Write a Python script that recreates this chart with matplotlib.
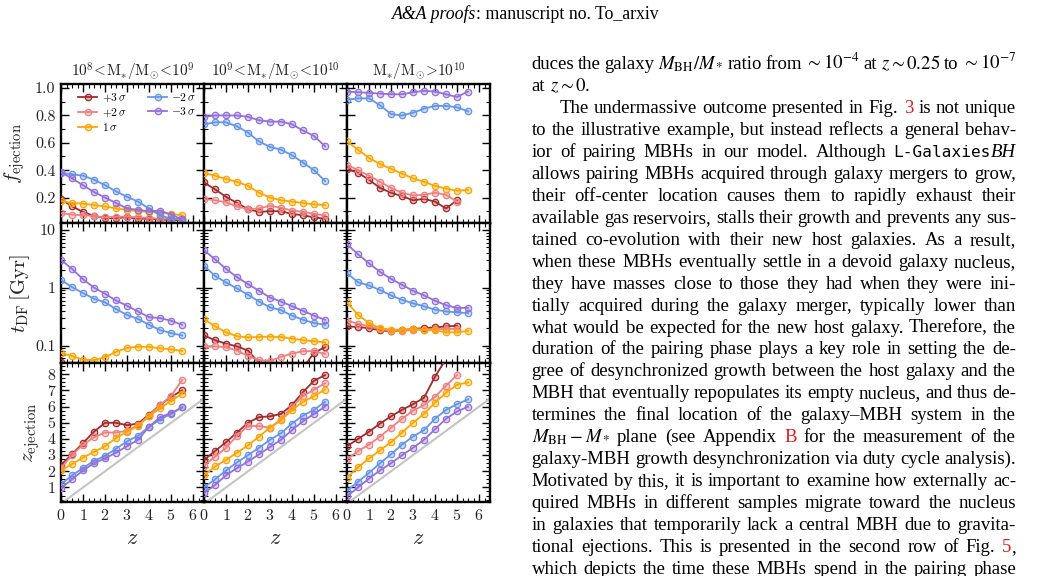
import numpy as np
import matplotlib
matplotlib.use("Agg")
import matplotlib.pyplot as plt
from matplotlib.ticker import MultipleLocator, FixedLocator, FixedFormatter, FormatStrFormatter, LogLocator, NullFormatter
from matplotlib.transforms import IdentityTransform
from matplotlib.colors import to_rgba

# ---------------- data ----------------
z = [0, 0.5, 1, 1.5, 2, 2.5, 3, 3.5, 4, 4.5, 5, 5.5]
nan = np.nan

series_keys = ["p3", "p2", "p1", "m2", "m3"]
series_labels = [r"$+3\,\sigma$", r"$+2\,\sigma$", r"$1\,\sigma$", r"$-2\,\sigma$", r"$-3\,\sigma$"]
series_colors = ["#a52a2a", "#f08080", "#ffa500", "#6495ed", "#9370db"]

col_titles = [r"$10^8\!<\!{\rm M}_{*}/{\rm M}_{\odot}\!<\!10^9$",
              r"$10^9\!<\!{\rm M}_{*}/{\rm M}_{\odot}\!<\!10^{10}$",
              r"${\rm M}_{*}/{\rm M}_{\odot}\!>\!10^{10}$"]
row_labels = [r"$f_{\rm ejection}$", r"$t_{\rm DF}\,[\rm Gyr]$", r"$z_{\rm ejection}$"]

# f_ejection
fej1_p3 = [0.19, 0.135, 0.095, 0.065, 0.05, 0.05, 0.055, 0.045, 0.045, 0.04, 0.035, 0.035]
fej1_p2 = [0.085, 0.075, 0.07, 0.065, 0.055, 0.06, 0.06, 0.055, 0.05, 0.045, 0.045, 0.04]
fej1_p1 = [0.175, 0.16, 0.155, 0.145, 0.135, 0.12, 0.11, 0.10, 0.095, 0.09, 0.08, 0.07]
fej1_m2 = [0.38, 0.37, 0.36, 0.33, 0.29, 0.245, 0.205, 0.17, 0.12, 0.07, 0.045, 0.04]
fej1_m3 = [0.385, 0.34, 0.29, 0.24, 0.20, 0.16, 0.12, 0.11, 0.10, 0.105, 0.075, 0.04]

fej2_p3 = [0.31, 0.26, 0.205, 0.16, 0.115, 0.095, 0.10, 0.10, 0.08, 0.07, 0.055, 0.045]
fej2_p2 = [0.19, 0.18, 0.165, 0.135, 0.115, 0.12, 0.14, 0.125, 0.105, 0.095, 0.08, 0.07]
fej2_p1 = [0.38, 0.36, 0.335, 0.315, 0.285, 0.235, 0.20, 0.18, 0.17, 0.16, 0.15, 0.145]
fej2_m2 = [0.735, 0.75, 0.75, 0.72, 0.675, 0.61, 0.57, 0.55, 0.51, 0.455, 0.40, 0.32]
fej2_m3 = [0.79, 0.80, 0.80, 0.80, 0.79, 0.765, 0.755, 0.755, 0.735, 0.69, 0.65, 0.575]

fej3_p3 = [0.41, 0.38, 0.33, 0.27, 0.235, 0.21, 0.18, 0.19, 0.17, 0.12, 0.18, nan]
fej3_p2 = [0.44, 0.40, 0.36, 0.315, 0.27, 0.235, 0.215, 0.22, 0.235, 0.22, 0.17, nan]
fej3_p1 = [0.61, 0.55, 0.49, 0.445, 0.41, 0.375, 0.34, 0.315, 0.285, 0.265, 0.25, 0.255]
fej3_m2 = [0.915, 0.925, 0.925, 0.875, 0.81, 0.80, 0.82, 0.85, 0.87, 0.87, 0.86, 0.83]
fej3_m3 = [0.975, 0.97, 0.965, 0.96, 0.955, 0.955, 0.97, 0.98, 0.975, 0.955, 0.935, 0.975]

# t_DF [Gyr]
tdf1_p3 = [0.052, 0.042, 0.036, 0.032, 0.030, 0.028, 0.027, 0.026, 0.025, 0.025, 0.024, 0.024]
tdf1_p2 = [0.040, 0.036, 0.033, 0.030, 0.028, 0.027, 0.026, 0.025, 0.025, 0.024, 0.024, 0.023]
tdf1_p1 = [0.075, 0.066, 0.057, 0.056, 0.063, 0.078, 0.091, 0.096, 0.095, 0.090, 0.086, 0.081]
tdf1_m2 = [1.37, 1.03, 0.81, 0.65, 0.56, 0.43, 0.34, 0.29, 0.23, 0.186, 0.165, 0.15]
tdf1_m3 = [3.04, 2.13, 1.41, 1.01, 0.79, 0.605, 0.49, 0.39, 0.31, 0.30, 0.27, 0.23]

tdf2_p3 = [0.15, 0.124, 0.108, 0.097, 0.082, 0.05, 0.042, 0.04, 0.04, 0.041, 0.075, 0.094]
tdf2_p2 = [0.097, 0.097, 0.094, 0.082, 0.066, 0.056, 0.054, 0.064, 0.073, 0.080, 0.080, 0.072]
tdf2_p1 = [0.29, 0.215, 0.17, 0.145, 0.139, 0.141, 0.143, 0.141, 0.132, 0.124, 0.119, 0.114]
tdf2_m2 = [2.43, 1.61, 1.24, 0.975, 0.76, 0.58, 0.46, 0.41, 0.33, 0.28, 0.246, 0.23]
tdf2_m3 = [4.5, 3.12, 2.13, 1.53, 1.16, 0.89, 0.68, 0.58, 0.48, 0.40, 0.33, 0.28]

tdf3_p3 = [0.215, 0.21, 0.20, 0.184, 0.177, 0.184, 0.196, 0.20, 0.207, 0.215, 0.22, nan]
tdf3_p2 = [0.27, 0.24, 0.215, 0.194, 0.18, 0.177, 0.189, 0.189, 0.194, 0.194, 0.196, nan]
tdf3_p1 = [0.56, 0.34, 0.246, 0.20, 0.189, 0.189, 0.194, 0.189, 0.184, 0.17, 0.17, 0.18]
tdf3_m2 = [1.79, 1.25, 1.10, 0.92, 0.74, 0.62, 0.54, 0.48, 0.42, 0.39, 0.376, 0.366]
tdf3_m3 = [5.7, 3.8, 2.66, 1.89, 1.43, 1.13, 0.89, 0.74, 0.60, 0.50, 0.45, 0.45]

# z_ejection
zej1_p3 = [2.4, 3.05, 3.75, 4.45, 5.0, 5.0, 4.85, 4.95, 5.5, 6.1, 6.6, 7.0]
zej1_p2 = [2.2, 3.0, 3.65, 4.1, 4.4, 4.4, 4.5, 4.85, 5.45, 6.1, 6.65, 7.65]
zej1_p1 = [2.05, 2.45, 2.85, 3.2, 3.55, 4.05, 4.45, 4.8, 5.4, 5.9, 6.35, 6.8]
zej1_m2 = [1.2, 1.75, 2.2, 2.65, 2.95, 3.4, 3.85, 4.2, 4.75, 5.2, 5.55, 5.95]
zej1_m3 = [0.95, 1.5, 2.05, 2.5, 2.8, 3.15, 3.55, 3.95, 4.75, 5.35, 5.6, 5.95]

zej2_p3 = [2.7, 3.25, 3.8, 4.4, 5.0, 5.35, 5.4, 5.55, 6.1, 6.9, 7.6, 7.95]
zej2_p2 = [2.35, 2.9, 3.45, 4.2, 4.8, 4.8, 4.7, 5.2, 6.0, 6.65, 7.05, 7.45]
zej2_p1 = [1.75, 2.3, 2.7, 3.15, 3.6, 4.15, 4.7, 5.15, 5.8, 6.3, 6.65, 7.05]
zej2_m2 = [1.0, 1.5, 2.05, 2.55, 3.0, 3.45, 3.95, 4.35, 4.95, 5.45, 5.8, 6.3]
zej2_m3 = [0.65, 1.15, 1.75, 2.2, 2.6, 3.05, 3.5, 3.95, 4.55, 5.1, 5.55, 6.0]

zej3_p3 = [3.55, 4.0, 4.45, 4.95, 5.4, 5.8, 6.15, 6.55, 7.85, 8.95, 9.6, nan]
zej3_p2 = [2.75, 3.25, 3.65, 4.15, 4.7, 5.25, 5.75, 6.1, 6.6, 7.3, 7.95, nan]
zej3_p1 = [1.6, 2.25, 2.8, 3.3, 3.8, 4.4, 5.0, 5.55, 6.25, 6.85, 7.35, 7.5]
zej3_m2 = [0.8, 1.35, 1.9, 2.5, 3.05, 3.65, 4.15, 4.55, 5.25, 5.8, 6.15, 6.45]
zej3_m3 = [0.45, 1.0, 1.55, 2.05, 2.5, 3.0, 3.45, 3.95, 4.6, 5.25, 5.7, 6.0]

panels = [
    [[fej1_p3, fej1_p2, fej1_p1, fej1_m2, fej1_m3],
     [fej2_p3, fej2_p2, fej2_p1, fej2_m2, fej2_m3],
     [fej3_p3, fej3_p2, fej3_p1, fej3_m2, fej3_m3]],
    [[tdf1_p3, tdf1_p2, tdf1_p1, tdf1_m2, tdf1_m3],
     [tdf2_p3, tdf2_p2, tdf2_p1, tdf2_m2, tdf2_m3],
     [tdf3_p3, tdf3_p2, tdf3_p1, tdf3_m2, tdf3_m3]],
    [[zej1_p3, zej1_p2, zej1_p1, zej1_m2, zej1_m3],
     [zej2_p3, zej2_p2, zej2_p1, zej2_m2, zej2_m3],
     [zej3_p3, zej3_p2, zej3_p1, zej3_m2, zej3_m3]],
]

# ---------------- style ----------------
plt.rcParams.update({
    "font.family": "serif",
    "font.serif": ["cmr10"],
    "mathtext.fontset": "cm",
    "axes.unicode_minus": False,
    "axes.formatter.use_mathtext": True,
})

FW, FH = 1050, 576
fig = plt.figure(figsize=(FW / 100, FH / 100), dpi=100)

col_left = [61, 204, 347]
col_w = 143
row_top = [84, 223.5, 363]
row_h = [139.5, 139.5, 139]

TXT = "#222222"
axes = [[None] * 3 for _ in range(3)]
for r in range(3):
    for c in range(3):
        ax = fig.add_axes([col_left[c] / FW, 1 - (row_top[r] + row_h[r]) / FH,
                           col_w / FW, row_h[r] / FH])
        axes[r][c] = ax
        for key, lab, colr, vals in zip(series_keys, series_labels, series_colors, panels[r][c]):
            ax.plot(z, vals, color=colr, lw=1.3, marker="o", ms=4.6,
                    mfc=to_rgba(colr, 0.35), mec=colr, mew=0.9, label=lab, zorder=3)
        if r == 2:
            ax.plot([0, 7], [0, 7], color="#c4c4c4", lw=1.5, zorder=2)
        ax.set_xlim(0, 6.5)
        ax.xaxis.set_major_locator(MultipleLocator(1))
        ax.xaxis.set_minor_locator(MultipleLocator(0.25))
        if r == 0:
            ax.set_ylim(0.01, 1.03)
            ax.yaxis.set_major_locator(MultipleLocator(0.2))
            ax.yaxis.set_minor_locator(MultipleLocator(0.1))
            ax.yaxis.set_major_formatter(FormatStrFormatter("%.1f"))
            ax.set_title(col_titles[c], fontsize=11, pad=5, color=TXT)
        elif r == 1:
            ax.set_yscale("log")
            ax.set_ylim(0.05, 13)
            ax.yaxis.set_major_locator(FixedLocator([0.1, 1, 10]))
            ax.yaxis.set_major_formatter(FixedFormatter(["0.1", "1", "10"]))
            ax.yaxis.set_minor_locator(LogLocator(base=10, subs=np.arange(2, 10)))
            ax.yaxis.set_minor_formatter(NullFormatter())
        else:
            ax.set_ylim(0.1, 8.7)
            ax.yaxis.set_major_locator(MultipleLocator(1))
            ax.yaxis.set_minor_locator(MultipleLocator(0.25))
            ax.yaxis.set_major_formatter(FormatStrFormatter("%d"))
            ax.set_xlabel(r"$z$", fontsize=16, color=TXT, labelpad=4)
        ax.tick_params(which="both", direction="in", top=True, right=True,
                       labelsize=11.5, labelcolor=TXT)
        ax.tick_params(which="major", length=5.5, width=1.0, pad=4)
        ax.tick_params(which="minor", length=2.8, width=0.8)
        if c > 0:
            ax.tick_params(labelleft=False)
        if r < 2:
            ax.tick_params(labelbottom=False)
        for sp in ax.spines.values():
            sp.set_linewidth(1.7)
    axes[r][0].set_ylabel(row_labels[r], fontsize=15, color=TXT)

axes[0][0].yaxis.set_label_coords(-0.235, 0.5)
axes[1][0].yaxis.set_label_coords(-0.2, 0.5)
axes[2][0].yaxis.set_label_coords(-0.13, 0.5)

axes[0][0].legend(ncol=2, loc="upper left", bbox_to_anchor=(0.09, 0.985), frameon=False,
                  fontsize=8.3, handlelength=1.6, columnspacing=1.9, labelspacing=0.22,
                  handletextpad=0.4, borderaxespad=0.2, borderpad=0.2)

# ---------------- page text ----------------
renderer = fig.canvas.get_renderer()
IDT = IdentityTransform()
FS = 13.5
RED = "#e41a1c"
SERIF = "Liberation Serif"


def make_piece(s, style, fs=None):
    fs = FS if fs is None else fs
    kw = dict(fontsize=fs, family=SERIF, color="black", math_fontfamily="stix")
    if style == "r":
        kw["color"] = RED
    elif style == "m":
        kw["family"] = "DejaVu Sans Mono"
        kw["fontsize"] = fs * 0.86
    elif style == "i":
        kw["style"] = "italic"
    t = fig.text(0, 0, s, transform=IDT, va="baseline", ha="left", **kw)
    w = t.get_window_extent(renderer).width
    return t, w


def split_words(line):
    words, cur, inmath = [], "", False
    for ch in line:
        if ch == "$":
            inmath = not inmath
        if ch == " " and not inmath:
            if cur:
                words.append(cur)
            cur = ""
        else:
            cur += ch
    if cur:
        words.append(cur)
    return words


def parse_word(w):
    pieces = []
    for p in w.split("|"):
        if p.startswith("#") and len(p) > 2 and p[1] in "rmi":
            pieces.append((p[2:], p[1]))
        else:
            pieces.append((p, "n"))
    return pieces


t1, w1 = make_piece("a a", "n")
t2, w2 = make_piece("aa", "n")
SPACE = w1 - w2
t1.remove(); t2.remove()

XL, XR = 531.5, 1016.0
body = [
    (True, 0, "duces the galaxy $M_{\\rm BH}/M_*$ ratio from $\\sim 10^{-4}$ at $z \\sim 0.25$ to $\\sim 10^{-7}$"),
    (False, 0, "at $z \\sim 0$."),
    (True, 28, "The undermassive outcome presented in Fig. #r3 is not unique"),
    (True, 0, "to the illustrative example, but instead reflects a general behav-"),
    (True, 0, "ior of pairing MBHs in our model. Although #mL-Galaxies|#iBH"),
    (True, 0, "allows pairing MBHs acquired through galaxy mergers to grow,"),
    (True, 0, "their off-center location causes them to rapidly exhaust their"),
    (True, 0, "available gas reservoirs, stalls their growth and prevents any sus-"),
    (True, 0, "tained co-evolution with their new host galaxies. As a result,"),
    (True, 0, "when these MBHs eventually settle in a devoid galaxy nucleus,"),
    (True, 0, "they have masses close to those they had when they were ini-"),
    (True, 0, "tially acquired during the galaxy merger, typically lower than"),
    (True, 0, "what would be expected for the new host galaxy. Therefore, the"),
    (True, 0, "duration of the pairing phase plays a key role in setting the de-"),
    (True, 0, "gree of desynchronized growth between the host galaxy and the"),
    (True, 0, "MBH that eventually repopulates its empty nucleus, and thus de-"),
    (True, 0, "termines the final location of the galaxy\u2013MBH system in the"),
    (True, 0, "$M_{\\rm BH} - M_*$ plane (see Appendix #rB for the measurement of the"),
    (True, 0, "galaxy-MBH growth desynchronization via duty cycle analysis)."),
    (True, 0, "Motivated by this, it is important to examine how externally ac-"),
    (True, 0, "quired MBHs in different samples migrate toward the nucleus"),
    (True, 0, "in galaxies that temporarily lack a central MBH due to gravita-"),
    (True, 0, "tional ejections. This is presented in the second row of Fig. #r5|,"),
    (True, 0, "which depicts the time these MBHs spend in the pairing phase"),
]

BASE0, LSP = 69.0, 21.96
for i, (just, indent, line) in enumerate(body):
    ybase = FH - (BASE0 + i * LSP)
    words = split_words(line)
    built = []
    for w in words:
        pcs = []
        for s, st in parse_word(w):
            t, wd = make_piece(s, st)
            pcs.append((t, wd))
        built.append(pcs)
    widths = [sum(wd for _, wd in pcs) for pcs in built]
    x0 = XL + indent
    if just and len(built) > 1:
        gap = (XR - x0 - sum(widths)) / (len(built) - 1)
    else:
        gap = SPACE
    x = x0
    for pcs, wtot in zip(built, widths):
        xx = x
        for t, wd in pcs:
            t.set_position((xx, ybase))
            xx += wd
        x += wtot + gap

# header
HFS = 12.8
h1, hw1 = make_piece("A&A proofs", "i", HFS)
h2, hw2 = make_piece(": manuscript no. To_arxiv", "n", HFS)
hx = 525 - (hw1 + hw2) / 2
h1.set_position((hx, FH - 19))
h2.set_position((hx + hw1, FH - 19))

fig.savefig("out.png", dpi=100)
